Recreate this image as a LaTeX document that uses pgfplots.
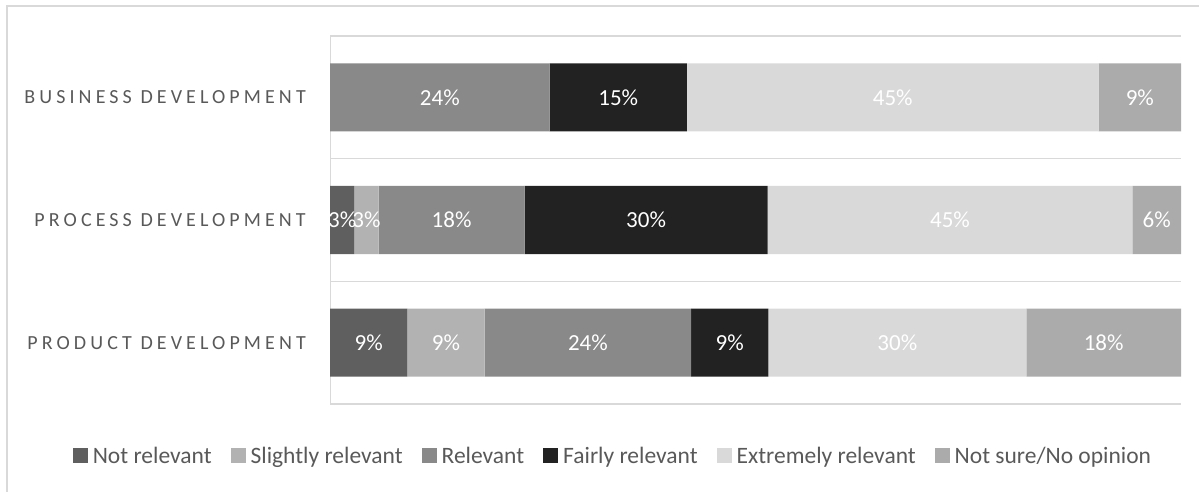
\documentclass[border=0pt]{standalone}
\usepackage{pgfplots}
\pgfplotsset{compat=1.18}
\usepackage{pgfplotstable}
\usepackage{fontspec}
\setmainfont{Carlito}
\newfontfamily\catfont[LetterSpace=20.5]{Carlito}
\definecolor{cNot}{HTML}{5F5F5F}
\definecolor{cSl}{HTML}{B2B2B2}
\definecolor{cRel}{HTML}{898989}
\definecolor{cFair}{HTML}{222222}
\definecolor{cExt}{HTML}{D9D9D9}
\definecolor{cNS}{HTML}{ABABAB}
\definecolor{txt}{HTML}{595959}
\definecolor{gridc}{HTML}{D9D9D9}

% y: 2 = Business, 1 = Process, 0 = Product
% w: share of the 100% stacked bar
\pgfplotstableread{
y w
2 0
1 2.857
0 9.091
}\tNot
\pgfplotstableread{
y w
2 0
1 2.857
0 9.091
}\tSl
\pgfplotstableread{
y w
2 25.806
1 17.143
0 24.242
}\tRel
\pgfplotstableread{
y w
2 16.129
1 28.571
0 9.091
}\tFair
\pgfplotstableread{
y w
2 48.387
1 42.857
0 30.303
}\tExt
\pgfplotstableread{
y w
2 9.677
1 5.714
0 18.182
}\tNS
% data labels: centre of each segment, shown value
\pgfplotstableread{
y c lab
2 12.903 24\%
2 33.871 15\%
2 66.129 45\%
2 95.161 9\%
1 1.429 3\%
1 4.286 3\%
1 14.286 18\%
1 37.143 30\%
1 72.857 45\%
1 97.143 6\%
0 4.545 9\%
0 13.636 9\%
0 30.303 24\%
0 46.970 9\%
0 66.667 30\%
0 90.909 18\%
}\tLab

\pgfplotsset{seg/.style={fill=#1, draw=none}}

\begin{document}
\begin{tikzpicture}[x=1pt,y=1pt]
\path[use as bounding box] (0pt,0pt) rectangle (1199pt,491pt);
\draw[gridc, line width=1.5pt] (7pt,-10pt) -- (7pt,485pt) -- (1210pt,485pt);
\begin{axis}[
  at={(330pt,87pt)}, anchor=south west,
  scale only axis, width=851pt, height=368pt,
  xbar stacked,
  bar width=0.555,
  xmin=0, xmax=100,
  ymin=-0.5, ymax=2.5,
  xtick=\empty,
  ytick={0,1,2},
  yticklabels={PRODUCT DEVELOPMENT, PROCESS DEVELOPMENT, BUSINESS DEVELOPMENT},
  yticklabel style={font=\catfont\fontsize{20}{24}\selectfont, text=txt, inner sep=0pt, anchor=east},
  yticklabel shift=24pt,
  major tick length=0pt, minor tick length=0pt,
  minor ytick={-0.5,0.5,1.5,2.5},
  yminorgrids=true,
  minor grid style={draw=gridc, line width=1.5pt},
  axis line style={draw=none},
  legend columns=6,
  legend style={draw=none, fill=none, font=\fontsize{23.5}{28}\selectfont, text=txt,
    at={(0.3325,-0.141)}, anchor=center,
    /tikz/every odd column/.append style={column sep=3pt},
    /tikz/every even column/.append style={column sep=17pt}},
  legend image code/.code={\fill[#1] (0pt,-7pt) rectangle (15pt,8pt);},
]
\addplot[seg=cNot] table[x=w, y=y] {\tNot};
\addplot[seg=cSl] table[x=w, y=y] {\tSl};
\addplot[seg=cRel] table[x=w, y=y] {\tRel};
\addplot[seg=cFair] table[x=w, y=y] {\tFair};
\addplot[seg=cExt] table[x=w, y=y] {\tExt};
\addplot[seg=cNS] table[x=w, y=y] {\tNS};
\draw[gridc, line width=1.5pt] (rel axis cs:0,0) -- (rel axis cs:0,1);
\legend{Not relevant, Slightly relevant, Relevant, Fairly relevant, Extremely relevant, Not sure/No opinion}
\end{axis}
\begin{axis}[
  at={(330pt,87pt)}, anchor=south west,
  scale only axis, width=851pt, height=368pt,
  xmin=0, xmax=100, ymin=-0.5, ymax=2.5,
  hide axis,
]
\addplot[draw=none, mark=none, only marks,
  point meta=explicit symbolic,
  nodes near coords,
  every node near coord/.style={anchor=center, text=white, font=\fontsize{23}{27}\selectfont}]
  table[x=c, y=y, meta=lab] {\tLab};
\end{axis}
\end{tikzpicture}
\end{document}
